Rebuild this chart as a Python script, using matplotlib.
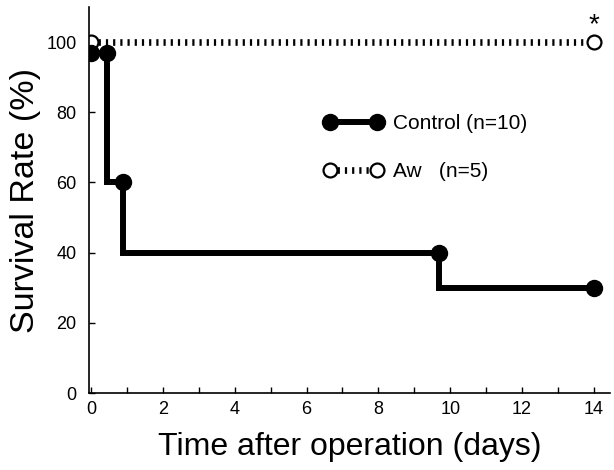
import matplotlib
matplotlib.use("Agg")
import matplotlib.pyplot as plt

plt.rcParams['font.family'] = ['Liberation Sans', 'DejaVu Sans']

# survival data
ctrl_start = 0.0
ctrl_drops = [0.45, 0.9, 9.7]          # days at which control survival falls
ctrl_levels = [97, 60, 40, 30]         # survival (%) before / after each drop
ctrl_end = 14.0

aw_days = [0, 14]
aw_surv = [100, 100]

xticks_major = [0, 2, 4, 6, 8, 10, 12, 14]
xticks_minor = [1, 3, 5, 7, 9, 11, 13]
yticks = [0, 20, 40, 60, 80, 100]

fig = plt.figure(figsize=(6.14, 4.70), dpi=100)
ax = fig.add_axes([89/614, 1-393/470, (610-89)/614, (393-7)/470])

# Aw: dotted line of short vertical bars with open circles at both ends
ax.plot(aw_days, aw_surv, color='black', lw=4.8, dashes=(0.33, 0.75),
        dash_capstyle='butt', marker='o', ms=10, mfc='white', mec='black',
        mew=1.6, label='Aw   (n=5)', zorder=2)

# Control: step curve with filled circles at the corners
step_x = [ctrl_start] + ctrl_drops + [ctrl_end]
step_y = ctrl_levels + [ctrl_levels[-1]]
ax.plot(step_x, step_y, drawstyle='steps-post', color='black', lw=4.3,
        solid_joinstyle='miter', zorder=3)
mark_x = [ctrl_start] + ctrl_drops + [ctrl_end]
mark_y = [ctrl_levels[0]] + ctrl_levels[:-1] + [ctrl_levels[-1]]
ax.plot(mark_x, mark_y, ls='none', marker='o', ms=11.5, color='black', zorder=4)

# legend proxy for control (line + filled circles)
ax.plot([], [], color='black', lw=4.3, marker='o', ms=11.5, label='Control (n=10)')

ax.annotate('*', xy=(14, 100), xytext=(0, 3), textcoords='offset points',
            ha='center', va='bottom', fontsize=20)

ax.set_xlim(-0.06, 14.45)
ax.set_ylim(0, 110)
ax.set_xticks(xticks_major)
ax.set_xticks(xticks_minor, minor=True)
ax.set_yticks(yticks)
ax.tick_params(axis='both', which='both', direction='in', length=4, width=1,
               labelsize=13)
ax.tick_params(axis='y', pad=9)
ax.tick_params(axis='x', pad=6)
for s in ['top', 'right']:
    ax.spines[s].set_visible(False)
for s in ['left', 'bottom']:
    ax.spines[s].set_linewidth(1.2)

ax.set_xlabel('Time after operation (days)', fontsize=23, labelpad=10)
ax.set_ylabel('Survival Rate (%)', fontsize=24.5, labelpad=4)

handles, labels = ax.get_legend_handles_labels()
order = [labels.index('Control (n=10)'), labels.index('Aw   (n=5)')]
leg = ax.legend([handles[i] for i in order], [labels[i] for i in order],
                frameon=False, numpoints=2, fontsize=15, handlelength=2.85,
                handletextpad=0.45, labelspacing=1.4, loc='upper left',
                borderpad=0, borderaxespad=0,
                bbox_to_anchor=(324/614, 1-114/470), bbox_transform=fig.transFigure)

fig.savefig('out.png', dpi=100)
